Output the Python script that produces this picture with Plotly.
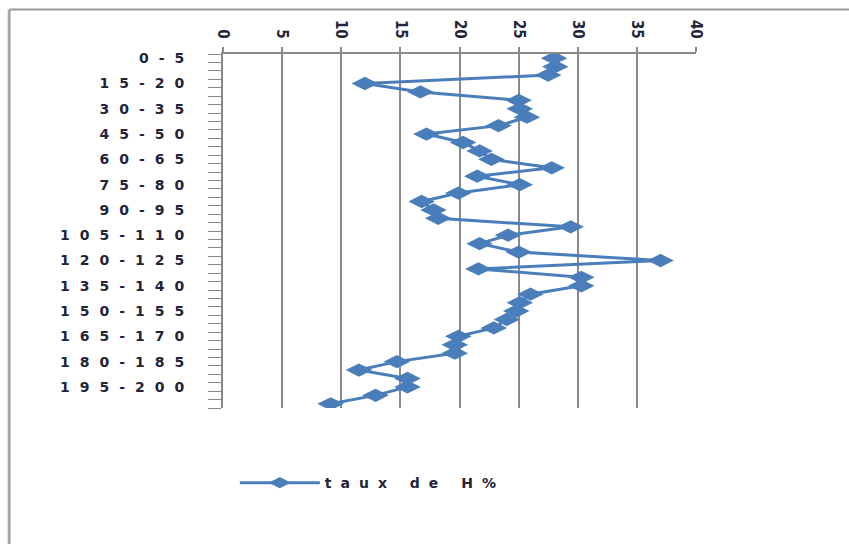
import plotly.graph_objects as go

# Depth intervals (cm) and hydrogen rate (%) measured in each interval
depth_bins = [
    "0-5", "5-10", "10-15", "15-20", "20-25", "25-30", "30-35", "35-40",
    "40-45", "45-50", "50-55", "55-60", "60-65", "65-70", "70-75", "75-80",
    "80-85", "85-90", "90-95", "95-100", "100-105", "105-110", "110-115",
    "115-120", "120-125", "125-130", "130-135", "135-140", "140-145",
    "145-150", "150-155", "155-160", "160-165", "165-170", "170-175",
    "175-180", "180-185", "185-190", "190-195", "195-200", "200-205",
    "205-210",
]
taux_h = [
    28.0, 28.1, 27.5, 12.0, 16.7, 25.0, 25.1, 25.7, 23.3, 17.2, 20.3, 21.7,
    22.7, 27.8, 21.5, 25.1, 19.9, 16.8, 17.8, 18.2, 29.4, 24.1, 21.7, 25.0,
    37.0, 21.6, 30.3, 30.3, 26.0, 25.1, 24.8, 24.0, 22.9, 19.9, 19.6, 19.6,
    14.7, 11.5, 15.6, 15.6, 12.9, 9.1,
]
x_ticks = [0, 5, 10, 15, 20, 25, 30, 35, 40]
series_name = "taux de H%"

BLUE = "#4a7ebb"
GRID = "#8a8a8a"
TEXT = "#23233a"


def spaced(s, gap):
    return f'<span style="letter-spacing:{gap}px">{s}</span>'


# label every third interval, tick every interval
y_ticktext = [spaced(lbl, 10) if i % 3 == 0 else "" for i, lbl in enumerate(depth_bins)]

fig = go.Figure()
fig.add_trace(go.Scatter(
    x=taux_h,
    y=depth_bins,
    mode="lines+markers",
    name=spaced(series_name, 9),
    line=dict(color=BLUE, width=3),
    marker=dict(symbol="diamond-wide", size=19, color=BLUE),
))

fig.update_layout(
    width=849,
    height=544,
    margin=dict(l=223, r=153, t=54, b=136),
    paper_bgcolor="white",
    plot_bgcolor="white",
    font=dict(family="DejaVu Sans", size=13, color=TEXT),
    showlegend=True,
    legend=dict(
        x=0.025, y=-0.212, xanchor="left", yanchor="middle",
        font=dict(size=14, color=TEXT, weight="bold"),
        itemwidth=80,
        bgcolor="rgba(0,0,0,0)",
    ),
    xaxis=dict(
        side="top",
        range=[0, 40],
        tickvals=x_ticks,
        ticktext=[str(v) for v in x_ticks],
        tickangle=90,
        ticks="outside",
        ticklen=5,
        tickwidth=2,
        tickcolor=GRID,
        showgrid=True,
        gridcolor=GRID,
        gridwidth=2,
        showline=True,
        linecolor=GRID,
        linewidth=2,
        zeroline=False,
        ticklabelstandoff=3,
        tickfont=dict(family="DejaVu Sans Condensed, DejaVu Sans", size=15,
                      color=TEXT, weight="bold"),
    ),
    yaxis=dict(
        type="category",
        categoryorder="array",
        categoryarray=depth_bins,
        range=[len(depth_bins) - 0.5, -0.5],
        tickvals=depth_bins,
        ticktext=y_ticktext,
        tickson="boundaries",
        ticks="outside",
        ticklen=13,
        tickwidth=1,
        tickcolor=GRID,
        showgrid=False,
        showline=True,
        linecolor=GRID,
        linewidth=2,
        zeroline=False,
        ticklabelstandoff=24,
        tickfont=dict(size=14, color=TEXT, weight="bold"),
    ),
    shapes=[
        # chart-area frame (left and top edges)
        dict(type="line", xref="paper", yref="paper",
             x0=-0.452, x1=1.4, y0=1.126, y1=1.126,
             line=dict(color="#9a9a9a", width=2)),
        dict(type="line", xref="paper", yref="paper",
             x0=-0.452, x1=-0.452, y0=1.126, y1=-0.4,
             line=dict(color="#a8a8a8", width=3)),
    ],
)

fig.write_html("out.html")
